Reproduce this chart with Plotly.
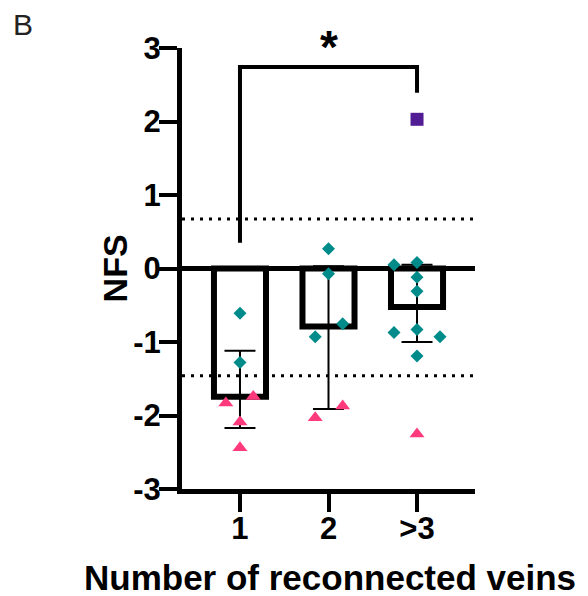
import plotly.graph_objects as go

# ---- data ----
categories = ["1", "2", ">3"]
bar_means = [-1.745, -0.79, -0.525]
err_upper = [-1.12, 0.03, 0.05]
err_lower = [-2.17, -1.91, -1.00]

diamond_vals = [[-0.61, -1.28],
                [0.27, -0.07, -0.75, -0.93],
                [0.05, 0.08, -0.12, -0.31, -0.87, -0.83, -0.93, -1.19]]
triangle_vals = [[-1.83, -1.74, -2.09, -2.44],
                 [-1.87, -2.03],
                 [-2.25]]
square_vals = [[], [], [2.03]]

y_ticks = [-3, -2, -1, 0, 1, 2, 3]
y_ticklabels = ["-3", "-2", "-1", "0", "1", "2", "3"]
threshold_lines = [0.675, -1.46]
sig_bracket = {"from": 0, "to": 2, "height": 2.74, "left_end": 0.35, "right_end": 2.39, "label": "*"}

# ---- style / positions (jitter offsets) ----
diamond_jit = [[0, 0], [0, 0, 0.16, -0.15], [-0.26, 0, 0, 0, -0.26, 0, 0.26, 0]]
triangle_jit = [[-0.16, 0.15, 0, 0], [0.16, -0.15], [0]]
square_jit = [[], [], [0]]

TEAL = "#008B8B"
PINK = "#FF3A7C"
PURPLE = "#521C94"
FONT = "Liberation Sans, Arial, sans-serif"

xpos = list(range(len(categories)))
fig = go.Figure()

fig.add_trace(go.Bar(
    x=xpos, y=bar_means, width=0.588,
    marker=dict(color="rgba(0,0,0,0)", line=dict(color="black", width=6)),
    error_y=dict(type="data", symmetric=False,
                 array=[u - m for u, m in zip(err_upper, bar_means)],
                 arrayminus=[m - l for l, m in zip(err_lower, bar_means)],
                 thickness=2, width=15.5, color="black"),
    showlegend=False, hoverinfo="skip"))


def add_points(vals, jits, symbol, color, size):
    xs, ys = [], []
    for i, (vs, js) in enumerate(zip(vals, jits)):
        for v, j in zip(vs, js):
            xs.append(xpos[i] + j)
            ys.append(v)
    fig.add_trace(go.Scatter(x=xs, y=ys, mode="markers",
                             marker=dict(symbol=symbol, color=color, size=size, line=dict(width=0)),
                             showlegend=False, cliponaxis=False))


add_points(diamond_vals, diamond_jit, "diamond", TEAL, 10)
add_points(triangle_vals, triangle_jit, "triangle-up", PINK, 13)
add_points(square_vals, square_jit, "square", PURPLE, 13)

for t in threshold_lines:
    fig.add_shape(type="line", xref="paper", x0=0, x1=1, yref="y", y0=t, y1=t,
                  line=dict(color="black", width=3, dash="3px,6px"), layer="below")

b = sig_bracket
fig.add_shape(type="path", xref="x", yref="y",
              path=f"M {b['from']},{b['left_end']} L {b['from']},{b['height']} "
                   f"L {b['to']},{b['height']} L {b['to']},{b['right_end']}",
              line=dict(color="black", width=4))
fig.add_annotation(x=(b['from'] + b['to']) / 2, y=b['height'], xref="x", yref="y",
                   text=b['label'], showarrow=False, yanchor="bottom", yshift=-8,
                   font=dict(family=FONT, size=46, color="black", weight="bold"))

fig.add_annotation(text="NFS", xref="paper", yref="paper", x=-0.229, y=0.5,
                   textangle=-90, showarrow=False, xanchor="center", yanchor="middle",
                   font=dict(family=FONT, size=34, color="black", weight="bold"))
fig.add_annotation(text="Number of reconnected veins", xref="paper", yref="paper",
                   x=0.505, y=-0.2, showarrow=False, xanchor="center", yanchor="middle",
                   font=dict(family=FONT, size=35, color="black", weight="bold"))
fig.add_annotation(text="B", xref="paper", yref="paper", x=-0.543, y=1.054,
                   showarrow=False, xanchor="center", yanchor="middle", borderpad=0,
                   font=dict(family=FONT, size=30, color="#222222"))

fig.update_layout(
    width=588, height=596,
    margin=dict(l=174, r=121, t=40, b=115),
    paper_bgcolor="white", plot_bgcolor="white",
    xaxis=dict(range=[-0.655, 2.655], tickvals=xpos, ticktext=categories,
               showline=True, linewidth=5, linecolor="black", ticks="outside",
               ticklen=18, tickwidth=4, tickcolor="black", showgrid=False, zeroline=False,
               ticklabelstandoff=-10,
               tickfont=dict(family=FONT, size=31, color="black", weight="bold")),
    yaxis=dict(range=[-3, 3], tickvals=y_ticks, ticktext=y_ticklabels,
               showline=True, linewidth=5, linecolor="black", ticks="outside",
               ticklen=18, tickwidth=4, tickcolor="black", showgrid=False,
               zeroline=True, zerolinewidth=5, zerolinecolor="black",
               ticklabelstandoff=-8,
               tickfont=dict(family=FONT, size=31, color="black", weight="bold")),
)

fig.write_html("out.html")
